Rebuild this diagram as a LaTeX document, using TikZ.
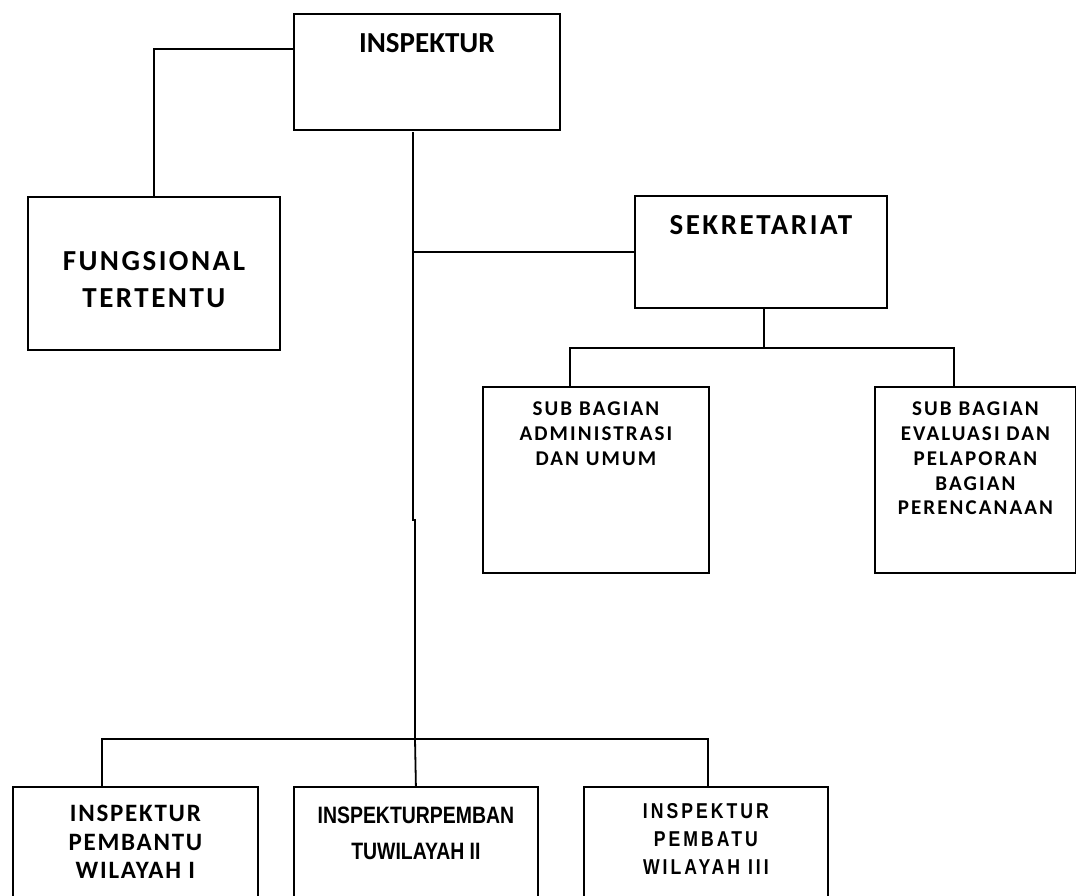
\documentclass[tikz,border=0pt]{standalone}
\usepackage{fontspec}
\setmainfont{Carlito}
\newfontfamily\fungfont[LetterSpace=8.6]{Carlito}
\newfontfamily\subfont[LetterSpace=10]{Carlito}
\newfontfamily\pbfont[LetterSpace=7]{Carlito}
\newfontfamily\narrowfont[FakeStretch=0.82]{Liberation Sans}
\newfontfamily\narrowwide[FakeStretch=0.82,LetterSpace=14]{Liberation Sans Bold}
\usetikzlibrary{positioning}

\begin{document}
\begin{tikzpicture}[x=1pt,y=-1pt,
  unit/.style={draw,line width=1.8pt,inner sep=0pt,anchor=north west},
  txt/.style={inner sep=0pt,align=center,anchor=north},
  link/.style={line width=1.8pt}]
\clip (0,0) rectangle (1076,895);
% boxes
\node[unit,minimum width=266pt,minimum height=116pt] (insp) at (293,13) {};
\node[unit,minimum width=252pt,minimum height=153pt] (fung) at (27,196) {};
\node[unit,minimum width=252pt,minimum height=112pt] (sekr) at (634,195) {};
\node[unit,minimum width=226pt,minimum height=186pt] (subadm) at (482,386) {};
\node[unit,minimum width=201pt,minimum height=186pt] (subeval) at (874,386) {};
\node[unit,minimum width=245pt,minimum height=140pt] (pb1) at (12,786) {};
\node[unit,minimum width=244pt,minimum height=140pt] (pb2) at (293,786) {};
\node[unit,minimum width=244pt,minimum height=140pt] (pb3) at (583,786) {};
% texts
\node[txt,font=\bfseries\fontsize{29}{35}\selectfont,below=20pt of insp.north] (insp-t) {INSPEKTUR};
\node[txt,font=\fungfont\bfseries\fontsize{29}{37}\selectfont,below=55pt of fung.north] (fung-t) {FUNGSIONAL\\TERTENTU};
\node[txt,font=\fungfont\bfseries\fontsize{29}{37}\selectfont,below=20.5pt of sekr.north] (sekr-t) {SEKRETARIAT};
\node[txt,font=\subfont\bfseries\fontsize{21}{24.7}\selectfont,below=16pt of subadm.north] (subadm-t) {SUB BAGIAN\\ADMINISTRASI\\DAN UMUM};
\node[txt,font=\subfont\bfseries\fontsize{21}{24.7}\selectfont,below=16pt of subeval.north] (subeval-t) {SUB BAGIAN\\EVALUASI DAN\\PELAPORAN\\BAGIAN\\PERENCANAAN};
\node[txt,font=\pbfont\bfseries\fontsize{25}{28.5}\selectfont,below=19pt of pb1.north] (pb1-t) {INSPEKTUR\\PEMBANTU\\WILAYAH I};
\node[txt,font=\narrowfont\bfseries\fontsize{23.7}{36}\selectfont,below=20.5pt of pb2.north] (pb2-t) {INSPEKTURPEMBAN\\TUWILAYAH II};
\node[txt,font=\narrowwide\fontsize{21.5}{28}\selectfont,below=17pt of pb3.north] (pb3-t) {INSPEKTUR\\PEMBATU\\WILAYAH III};
% connectors
\coordinate (trunk-top) at (413,132);
\coordinate (trunk-jog) at (413,520);
\coordinate (bus) at (415,739);
\coordinate (busL) at (102,739);
\coordinate (busR) at (708,739);
\coordinate (sbusL) at (570,348);
\coordinate (sbusR) at (954,348);
\draw[link] (insp.north west) ++(0,36) -| (fung.north);
\draw[link] (trunk-top) -- (trunk-jog) -- ++(2,0) -- (bus);
\draw[link] (trunk-top |- sekr.west) -- (sekr.west);
\draw[link] ([xshift=3pt]sekr.south) -- ([xshift=3pt]sekr.south |- sbusL);
\draw[link] (subadm.north -| sbusL) -- (sbusL) -- (sbusR) -- (subeval.north -| sbusR);
\draw[link] (pb1.north -| busL) -- (busL) -- (busR) -- (pb3.north -| busR);
\draw[link] (bus) -- (pb2.north);
\end{tikzpicture}
\end{document}
